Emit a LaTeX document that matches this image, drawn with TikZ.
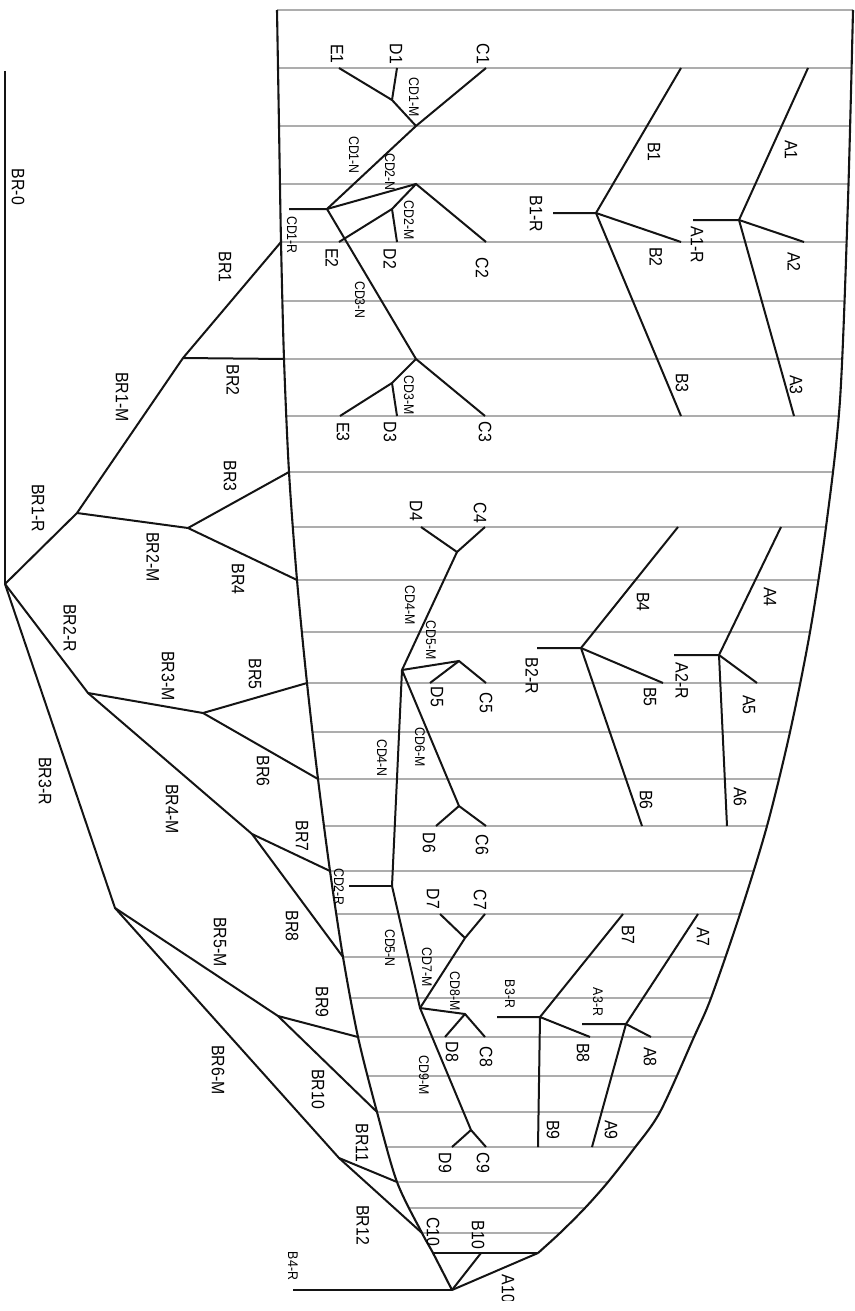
\documentclass[tikz,border=0pt]{standalone}
\usepackage{fontspec}
\setmainfont{Liberation Sans}
\usepackage{tikz}

\begin{document}
\begin{tikzpicture}[
    x=1pt, y=-1pt,
    % --- Line styles ---
    vein/.style={line width=2pt, color=black!92},
    rim/.style={line width=2.1pt, color=black!92},
    rib/.style={line width=2.1pt, color=black!32},
    % --- Label styles ---
    lbl/.style={font=\fontsize{18}{20}\selectfont, rotate=-90, xscale=0.88,
        inner sep=0pt, text=black},
    slbl/.style={font=\fontsize{14}{16}\selectfont, rotate=-90, xscale=0.88,
        inner sep=0pt, text=black},
]
\useasboundingbox (0,0) rectangle (854,1311);
\clip (0,0) rectangle (854,1300);

% =============================================
%  Outline points
% =============================================
\coordinate (rimtop)  at (277,10);
\coordinate (br1e)    at (281,242);
\coordinate (br2e)    at (284,359);
\coordinate (br3e)    at (289,472);
\coordinate (br4e)    at (297,580);
\coordinate (br5e)    at (307,683);
\coordinate (br6e)    at (318,779);
\coordinate (br7e)    at (330,871);
\coordinate (br8e)    at (343,957);
\coordinate (br9e)    at (358,1037);
\coordinate (br10e)   at (377,1112);
\coordinate (br11e)   at (397,1182);
\coordinate (br12e)   at (422,1233);
\coordinate (c10e)    at (433,1253);
\coordinate (tip)     at (452,1290);
\coordinate (rimtopr) at (853,10);
\coordinate (a10e)    at (538,1253);
\coordinate (b10e)    at (481,1253);

% =============================================
%  Ribs (clipped to the blade)
% =============================================
\begin{scope}
    \clip plot[smooth] coordinates {(rimtop) (279,126) (br1e) (br2e) (br3e) (br4e)
        (br5e) (br6e) (br7e) (br8e) (br9e) (br10e) (br11e) (br12e) (c10e) (tip)}
        -- (860,1311) -- (860,0) -- (277,0) -- cycle;
    \clip plot[smooth] coordinates {(rimtopr) (848,200) (840,400) (826,527) (810,632)
        (790,732) (767,826) (740,914) (711,998) (694,1037) (660,1112) (633,1150)
        (608,1182) (585,1208) (560,1233) (a10e)}
        -- (270,1311) -- (270,0) -- (853,0) -- cycle;
    \foreach \y in {10,68,126,184,242,301,359,416,472,527,580,632,683,732,779,
                    826,871,914,957,998,1037,1076,1112,1147,1182,1208,1233}
        \draw[rib] (270,\y) -- (860,\y);
\end{scope}

% =============================================
%  Outline
% =============================================
\draw[rim] plot[smooth] coordinates {(rimtop) (279,126) (br1e) (br2e) (br3e) (br4e)
    (br5e) (br6e) (br7e) (br8e) (br9e) (br10e) (br11e) (br12e) (c10e) (tip)};
\draw[rim] plot[smooth] coordinates {(rimtopr) (848,200) (840,400) (826,527) (810,632)
    (790,732) (767,826) (740,914) (711,998) (694,1037) (660,1112) (633,1150)
    (608,1182) (585,1208) (560,1233) (a10e)};
\draw[vein] (c10e) -- (a10e);
\draw[vein] (a10e) -- (tip);
\draw[vein] (b10e) -- (tip);

% =============================================
%  BR branches (left)
% =============================================
\coordinate (br0top) at (5,71);
\coordinate (root)   at (5,584);
\coordinate (j1) at (77,513);
\coordinate (j2) at (183,358);
\coordinate (j3) at (188,528);
\coordinate (j4) at (88,693);
\coordinate (j5) at (203,713);
\coordinate (j6) at (252,834);
\coordinate (j7) at (115,908);
\coordinate (j8) at (278,1016);
\coordinate (j9) at (339,1158);
\coordinate (b4r) at (293,1290);

\draw[vein] (br0top) -- (root);
\draw[vein] (root) -- (j1) -- (j2) -- (br1e);
\draw[vein] (j2) -- (br2e);
\draw[vein] (j1) -- (j3) -- (br3e);
\draw[vein] (j3) -- (br4e);
\draw[vein] (root) -- (j4) -- (j5) -- (br5e);
\draw[vein] (j5) -- (br6e);
\draw[vein] (j4) -- (j6) -- (br7e);
\draw[vein] (j6) -- (br8e);
\draw[vein] (root) -- (j7) -- (j8) -- (br9e);
\draw[vein] (j8) -- (br10e);
\draw[vein] (j7) -- (j9) -- (br11e);
\draw[vein] (j9) -- (br12e);
\draw[vein] (b4r) -- (tip);

% =============================================
%  CD veins (middle)
% =============================================
\coordinate (e1) at (339,68);  \coordinate (d1) at (397,68);  \coordinate (c1) at (486,68);
\coordinate (k1) at (416,126); \coordinate (k2) at (392,100);
\coordinate (k3) at (327,209); \coordinate (cd1r) at (289,209);
\coordinate (k4) at (416,184); \coordinate (k5) at (392,209);
\coordinate (e2) at (339,242); \coordinate (d2) at (397,242); \coordinate (c2) at (486,242);
\coordinate (k6) at (416,359); \coordinate (k7) at (392,383);
\coordinate (e3) at (340,416); \coordinate (d3) at (397,416); \coordinate (c3) at (485,416);
\coordinate (k8) at (457,552); \coordinate (d4) at (421,527); \coordinate (c4) at (485,527);
\coordinate (k9) at (402,670); \coordinate (k10) at (459,661);
\coordinate (d5) at (430,683); \coordinate (c5) at (486,683);
\coordinate (k11) at (459,806);
\coordinate (d6) at (436,826); \coordinate (c6) at (486,826);
\coordinate (k12) at (392,886); \coordinate (cd2r) at (349,886);
\coordinate (k13) at (420,1008);
\coordinate (k14) at (465,938); \coordinate (d7) at (440,914); \coordinate (c7) at (485,914);
\coordinate (k15) at (465,1014); \coordinate (d8) at (445,1037); \coordinate (c8) at (485,1037);
\coordinate (k16) at (471,1130); \coordinate (d9) at (452,1147); \coordinate (c9) at (486,1147);

\draw[vein] (c1) -- (k1) -- (k3);
\draw[vein] (k1) -- (k2) -- (d1);
\draw[vein] (k2) -- (e1);
\draw[vein] (cd1r) -- (k3) -- (k4) -- (c2);
\draw[vein] (k4) -- (k5) -- (d2);
\draw[vein] (k5) -- (e2);
\draw[vein] (k3) -- (k6) -- (c3);
\draw[vein] (k6) -- (k7) -- (d3);
\draw[vein] (k7) -- (e3);
\draw[vein] (c4) -- (k8) -- (d4);
\draw[vein] (k8) -- (k9) -- (k12) -- (k13) -- (k16);
\draw[vein] (k9) -- (k10) -- (c5);
\draw[vein] (k10) -- (d5);
\draw[vein] (k9) -- (k11) -- (c6);
\draw[vein] (k11) -- (d6);
\draw[vein] (cd2r) -- (k12);
\draw[vein] (k13) -- (k14) -- (c7);
\draw[vein] (k14) -- (d7);
\draw[vein] (k13) -- (k15) -- (c8);
\draw[vein] (k15) -- (d8);
\draw[vein] (k16) -- (c9);
\draw[vein] (k16) -- (d9);

% =============================================
%  A / B veins (right)
% =============================================
\coordinate (bj1) at (596,213); \coordinate (b1r) at (553,213);
\coordinate (b1) at (681,68);   \coordinate (b2) at (681,242);  \coordinate (b3) at (681,416);
\coordinate (aj1) at (739,220); \coordinate (a1r) at (693,220);
\coordinate (a1) at (808,68);   \coordinate (a2) at (804,242);  \coordinate (a3) at (794,416);
\coordinate (bj2) at (581,648); \coordinate (b2r) at (537,648);
\coordinate (b4) at (678,527);  \coordinate (b5) at (663,683);  \coordinate (b6) at (642,826);
\coordinate (aj2) at (719,655); \coordinate (a2r) at (674,655);
\coordinate (a4) at (781,527);  \coordinate (a5) at (757,683);  \coordinate (a6) at (727,826);
\coordinate (bj3) at (540,1017); \coordinate (b3r) at (497,1017);
\coordinate (b7) at (623,914);  \coordinate (b8) at (590,1037); \coordinate (b9) at (538,1147);
\coordinate (aj3) at (626,1024); \coordinate (a3r) at (582,1024);
\coordinate (a7) at (698,914);  \coordinate (a8) at (651,1037); \coordinate (a9) at (592,1147);

\draw[vein] (b1r) -- (bj1) -- (b1);
\draw[vein] (bj1) -- (b2);
\draw[vein] (bj1) -- (b3);
\draw[vein] (a1r) -- (aj1) -- (a1);
\draw[vein] (aj1) -- (a2);
\draw[vein] (aj1) -- (a3);
\draw[vein] (b2r) -- (bj2) -- (b4);
\draw[vein] (bj2) -- (b5);
\draw[vein] (bj2) -- (b6);
\draw[vein] (a2r) -- (aj2) -- (a4);
\draw[vein] (aj2) -- (a5);
\draw[vein] (aj2) -- (a6);
\draw[vein] (b3r) -- (bj3) -- (b7);
\draw[vein] (bj3) -- (b8);
\draw[vein] (bj3) -- (b9);
\draw[vein] (a3r) -- (aj3) -- (a7);
\draw[vein] (aj3) -- (a8);
\draw[vein] (aj3) -- (a9);

% =============================================
%  Labels
% =============================================
% BR branches
\node[lbl] (t-br0)  at (18,187)   {BR-0};
\node[lbl] (t-br1)  at (225,267)  {BR1};
\node[lbl] (t-br2)  at (233,380)  {BR2};
\node[lbl] (t-br1m) at (122,397)  {BR1-M};
\node[lbl] (t-br3)  at (230,476)  {BR3};
\node[lbl] (t-br1r) at (38,508)   {BR1-R};
\node[lbl] (t-br2m) at (153,557)  {BR2-M};
\node[lbl] (t-br4)  at (238,579)  {BR4};
\node[lbl] (t-br2r) at (70,628)   {BR2-R};
\node[lbl] (t-br3m) at (168,676)  {BR3-M};
\node[lbl] (t-br5)  at (255,674)  {BR5};
\node[lbl] (t-br6)  at (263,771)  {BR6};
\node[lbl] (t-br3r) at (45,781)   {BR3-R};
\node[lbl] (t-br4m) at (172,809)  {BR4-M};
\node[lbl] (t-br7)  at (302,836)  {BR7};
\node[lbl] (t-br8)  at (292,926)  {BR8};
\node[lbl] (t-br5m) at (220,942)  {BR5-M};
\node[lbl] (t-br9)  at (322,1002) {BR9};
\node[lbl] (t-br6m) at (218,1070) {BR6-M};
\node[lbl] (t-br10) at (318,1089) {BR10};
\node[lbl] (t-br11) at (362,1143) {BR11};
\node[lbl] (t-br12) at (363,1225) {BR12};
\node[slbl] (t-b4r) at (293,1266) {B4-R};

% CD veins
\node[lbl] (t-e1) at (337,54)  {E1};
\node[lbl] (t-d1) at (396,54)  {D1};
\node[lbl] (t-c1) at (483,54)  {C1};
\node[lbl] (t-e2) at (332,258) {E2};
\node[lbl] (t-d2) at (390,259) {D2};
\node[lbl] (t-c2) at (482,268) {C2};
\node[lbl] (t-e3) at (343,432) {E3};
\node[lbl] (t-d3) at (390,432) {D3};
\node[lbl] (t-c3) at (485,432) {C3};
\node[lbl] (t-d4) at (416,511) {D4};
\node[lbl] (t-c4) at (480,513) {C4};
\node[lbl] (t-d5) at (437,697) {D5};
\node[lbl] (t-c5) at (486,703) {C5};
\node[lbl] (t-d6) at (429,843) {D6};
\node[lbl] (t-c6) at (482,845) {C6};
\node[lbl] (t-d7) at (433,899) {D7};
\node[lbl] (t-c7) at (480,900) {C7};
\node[lbl] (t-d8) at (452,1052) {D8};
\node[lbl] (t-c8) at (486,1057) {C8};
\node[lbl] (t-d9) at (445,1163) {D9};
\node[lbl] (t-c9) at (483,1163) {C9};
\node[lbl] (t-c10) at (433,1232) {C10};
\node[lbl] (t-b10) at (478,1235) {B10};
\node[lbl] (t-a10) at (508,1289) {A10};

\node[slbl] (t-cd1m) at (414,97)   {CD1-M};
\node[slbl] (t-cd1n) at (354,155)  {CD1-N};
\node[slbl] (t-cd2n) at (390,172)  {CD2-N};
\node[slbl] (t-cd2m) at (409,220)  {CD2-M};
\node[slbl] (t-cd1r) at (292,235)  {CD1-R};
\node[slbl] (t-cd3n) at (360,300)  {CD3-N};
\node[slbl] (t-cd3m) at (409,395)  {CD3-M};
\node[slbl] (t-cd4m) at (410,605)  {CD4-M};
\node[slbl] (t-cd5m) at (431,640)  {CD5-M};
\node[slbl] (t-cd6m) at (420,747)  {CD6-M};
\node[slbl] (t-cd4n) at (382,758)  {CD4-N};
\node[slbl] (t-cd2r) at (339,887)  {CD2-R};
\node[slbl] (t-cd5n) at (390,948)  {CD5-N};
\node[slbl] (t-cd7m) at (427,967)  {CD7-M};
\node[slbl] (t-cd8m) at (455,991)  {CD8-M};
\node[slbl] (t-cd9m) at (424,1075) {CD9-M};

% A / B veins
\node[lbl] (t-b1)  at (654,152) {B1};
\node[lbl] (t-b2)  at (656,257) {B2};
\node[lbl] (t-b3)  at (682,383) {B3};
\node[lbl] (t-a1)  at (791,150) {A1};
\node[lbl] (t-a2)  at (794,262) {A2};
\node[lbl] (t-a3)  at (796,385) {A3};
\node[lbl] (t-b1r) at (536,214) {B1-R};
\node[lbl] (t-a1r) at (697,245) {A1-R};
\node[lbl] (t-b4)  at (643,602) {B4};
\node[lbl] (t-b5)  at (650,697) {B5};
\node[lbl] (t-b6)  at (646,800) {B6};
\node[lbl] (t-a4)  at (770,597) {A4};
\node[lbl] (t-a5)  at (749,705) {A5};
\node[lbl] (t-a6)  at (740,797) {A6};
\node[lbl] (t-b2r) at (532,676) {B2-R};
\node[lbl] (t-a2r) at (682,681) {A2-R};
\node[lbl] (t-b7)  at (628,935)  {B7};
\node[lbl] (t-b8)  at (583,1053) {B8};
\node[lbl] (t-b9)  at (553,1130) {B9};
\node[lbl] (t-a7)  at (703,937)  {A7};
\node[lbl] (t-a8)  at (650,1057) {A8};
\node[lbl] (t-a9)  at (611,1130) {A9};
\node[slbl] (t-b3r) at (510,994)  {B3-R};
\node[slbl] (t-a3r) at (598,1002) {A3-R};

\end{tikzpicture}
\end{document}
